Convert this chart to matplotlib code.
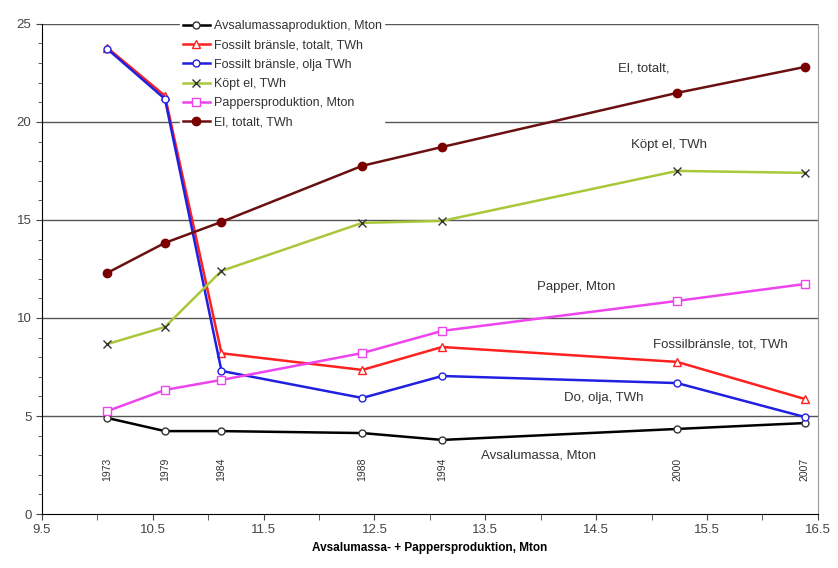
import matplotlib
matplotlib.use('Agg')
import matplotlib.pyplot as plt
from matplotlib.ticker import MultipleLocator

plt.rcParams['font.family'] = ['Liberation Sans', 'DejaVu Sans']

# x = avsalumassa + pappersproduktion, Mton
years = ['1973', '1979', '1984', '1988', '1994', '2000', '2007']
x = [10.09, 10.61, 11.12, 12.39, 13.11, 15.23, 16.38]

avsalumassa = [4.9, 4.23, 4.23, 4.13, 3.78, 4.34, 4.64]
fossil_tot = [23.78, 21.33, 8.2, 7.35, 8.52, 7.76, 5.87]
fossil_olja = [23.72, 21.17, 7.3, 5.92, 7.04, 6.68, 4.95]
kopt_el = [8.67, 9.54, 12.4, 14.85, 14.95, 17.5, 17.4]
papper = [5.25, 6.33, 6.84, 8.21, 9.34, 10.87, 11.73]
el_totalt = [12.3, 13.83, 14.9, 17.76, 18.72, 21.48, 22.8]

fig = plt.figure(figsize=(8.38, 5.68), dpi=100)
ax = fig.add_axes([0.05, 0.095, 0.926, 0.863])

for yv in [5, 10, 15, 20, 25]:
    ax.axhline(yv, color='#555555', lw=1.0, zorder=0)

ax.plot(x, avsalumassa, color='black', lw=1.8, marker='o', ms=5, mfc='white', mec='#333333',
        label='Avsalumassaproduktion, Mton')
ax.plot(x, fossil_tot, color='#ff2020', lw=1.8, marker='^', ms=6, mfc='white', mec='#ff2020',
        label='Fossilt bränsle, totalt, TWh')
ax.plot(x, fossil_olja, color='#2020e0', lw=1.8, marker='o', ms=5, mfc='white', mec='#2020e0',
        label='Fossilt bränsle, olja TWh')
ax.plot(x, kopt_el, color='#a8c83a', lw=1.8, marker='x', ms=6, mec='#333333', mew=1.0,
        label='Köpt el, TWh')
ax.plot(x, papper, color='#ee44ee', lw=1.8, marker='s', ms=6, mfc='white', mec='#ee44ee',
        label='Pappersproduktion, Mton')
ax.plot(x, el_totalt, color='#6b1010', lw=1.8, marker='o', ms=6, mfc='#7a0000', mec='#7a0000',
        label='El, totalt, TWh')

for xi, yr in zip(x, years):
    ax.text(xi, 2.3, yr, rotation=90, ha='center', va='center', fontsize=7.5, color='#333333')

ax.text(14.93, 22.55, 'El, totalt,', fontsize=9.5, color='#333333', ha='center')
ax.text(15.16, 18.65, 'Köpt el, TWh', fontsize=9.5, color='#333333', ha='center')
ax.text(14.32, 11.45, 'Papper, Mton', fontsize=9.5, color='#333333', ha='center')
ax.text(15.62, 8.5, 'Fossilbränsle, tot, TWh', fontsize=9.5, color='#333333', ha='center')
ax.text(14.57, 5.75, 'Do, olja, TWh', fontsize=9.5, color='#333333', ha='center')
ax.text(13.98, 2.85, 'Avsalumassa, Mton', fontsize=9.5, color='#333333', ha='center')

ax.set_xlim(9.5, 16.5)
ax.set_ylim(0, 25)
ax.xaxis.set_major_locator(MultipleLocator(1.0))
ax.xaxis.set_minor_locator(MultipleLocator(0.5))
ax.yaxis.set_major_locator(MultipleLocator(5))
ax.yaxis.set_minor_locator(MultipleLocator(1))
ax.tick_params(axis='both', which='both', direction='out', length=4, labelsize=9.5, colors='#444444')
ax.tick_params(axis='y', which='minor', length=3)
ax.set_xticks([9.5, 10.5, 11.5, 12.5, 13.5, 14.5, 15.5, 16.5])
ax.set_xlabel('Avsalumassa- + Pappersproduktion, Mton', fontsize=8.5, fontweight='bold', labelpad=4)

ax.spines['top'].set_visible(False)
ax.spines['right'].set_color('#999999')

leg = ax.legend(loc='upper left', bbox_to_anchor=(0.17, 1.025), frameon=True, fontsize=9,
                handlelength=2.2, labelspacing=0.58, borderpad=0.2, handletextpad=0.3)
leg.get_frame().set_edgecolor('white')
leg.get_frame().set_facecolor('white')
leg.get_frame().set_alpha(1)
for t in leg.get_texts():
    t.set_color('#333333')

fig.savefig('out.png', dpi=100)
